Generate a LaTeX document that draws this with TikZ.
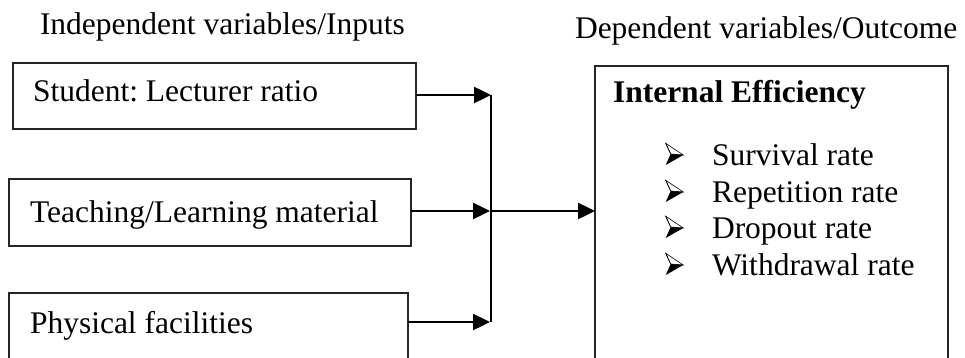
\documentclass[tikz,border=0pt]{standalone}
\usepackage{fontspec}
\setmainfont{Liberation Serif}
\usetikzlibrary{arrows.meta}
\frenchspacing

\begin{document}
\begin{tikzpicture}[x=1pt,y=-1pt,
  every node/.style={inner sep=0pt, outer sep=0pt, font=\fontsize{31.5}{37}\selectfont},
  box/.style={draw=black!85, line width=1.1pt, anchor=north west, rectangle},
  lbl/.style={anchor=base west},
  flow/.style={line width=2.4pt, -{Triangle[length=17pt 0 0,width=16pt 0 0]}},
  trunk/.style={line width=1.6pt},
  pics/itembullet/.style={code={
    \draw[line width=0.6pt, line join=miter] (0,-21.7) -- (17.6,-10) -- (5,-11) -- cycle;
    \fill (5,-11) -- (17.6,-10) -- (0,0) -- cycle;
    \draw[line width=0.6pt] (0,-21.7) -- (5,-11);
  }}]
  \useasboundingbox (0,0) rectangle (965,358);
  \clip (0,0) rectangle (965,358);

  % column headings
  \node[lbl] (hin) at (40,35) {Independent variables/Inputs};
  \node[lbl] (hout) at (575,39) {Dependent variables/Outcome};

  % input boxes
  \node[box, minimum width=403pt, minimum height=66pt] (b1) at (13,63) {};
  \node[lbl] (t1) at (33,102) {Student: Lecturer ratio};
  \node[box, minimum width=402pt, minimum height=67pt] (b2) at (9,179) {};
  \node[lbl] (t2) at (30,222) {Teaching/Learning material};
  \node[box, minimum width=399pt, minimum height=110pt] (b3) at (9,293) {};
  \node[lbl] (t3) at (30,333) {Physical facilities};

  % outcome box
  \node[box, minimum width=353pt, minimum height=330pt] (out) at (595,66) {};
  \node[lbl, font=\fontsize{31.5}{37}\selectfont\bfseries] (ttl) at (613,103) {Internal Efficiency};
  \foreach \y/\txt/\nm in {165/Survival rate/i1, 202/Repetition rate/i2, 238/Dropout rate/i3, 275/Withdrawal rate/i4}{
    \pic at (665.7,\y) {itembullet};
    \node[lbl] (\nm) at (712,\y) {\txt};
  }

  % junction points on the collecting line
  \coordinate (j1) at (491,95);
  \coordinate (j2) at (490,211);
  \coordinate (j3) at (490,322);

  \draw[trunk] (j1) -- (j3 -| j1);
  \draw[flow] (b1.east |- j1) -- (j1);
  \draw[flow] (b2.east |- j2) -- (j2);
  \draw[flow] (b3.east |- j3) -- (j3);
  \draw[flow] (j2) -- (out.west |- j2);
\end{tikzpicture}
\end{document}
